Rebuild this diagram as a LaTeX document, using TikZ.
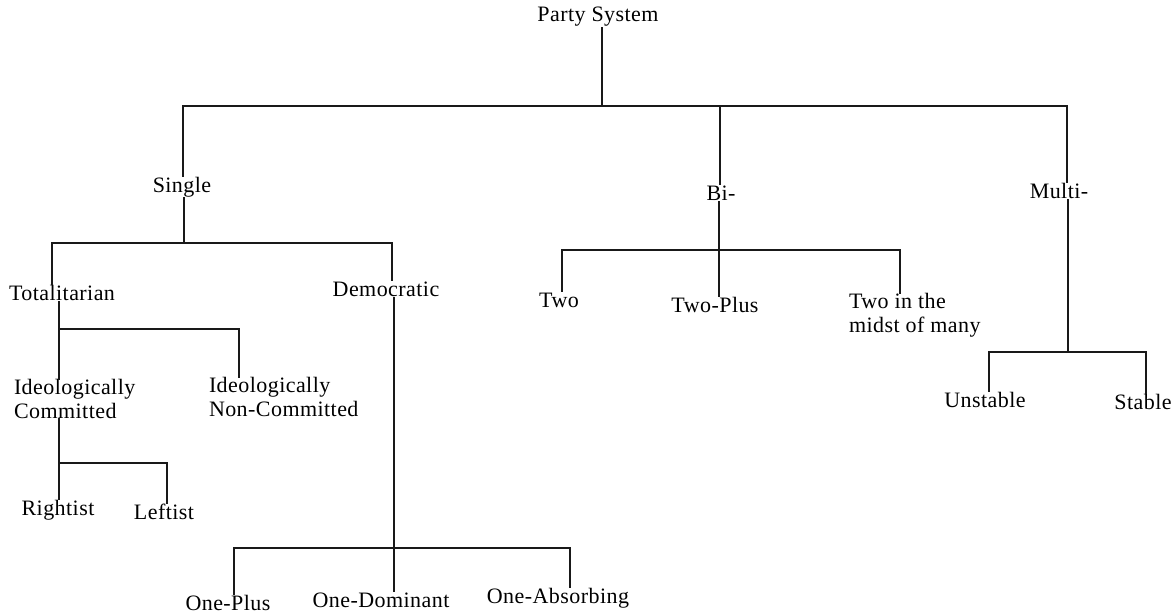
\documentclass[tikz,border=0pt]{standalone}
\usepackage{fontspec}
\setmainfont[LetterSpace=2]{Liberation Serif}
\begin{document}
\begin{tikzpicture}[x=1pt,y=1pt,
  lbl/.style={inner sep=1pt,outer sep=0pt,font=\fontsize{22}{24}\selectfont,text=black},
  lbl2/.style={lbl,align=left,anchor=west,inner sep=0pt},
  conn/.style={line width=1.5pt,draw=black!90,line cap=rect}]
\useasboundingbox (0,0) rectangle (1172,-615);
% nodes
\node[lbl] (ps) at (598,-17) {Party System};
\node[lbl] (single) at (182,-187) {Single};
\node[lbl] (bi) at (721,-193) {Bi-};
\node[lbl] (multi) at (1059,-191) {Multi-};
\node[lbl] (total) at (62,-293) {Totalitarian};
\node[lbl] (demo) at (386,-289) {Democratic};
\node[lbl2] (ideoc) at (14,-399) {Ideologically\\Committed};
\node[lbl2] (ideon) at (209,-397) {Ideologically\\Non-Committed};
\node[lbl] (right) at (58,-510) {Rightist};
\node[lbl] (left) at (164,-512) {Leftist};
\node[lbl] (oneplus) at (228,-603) {One-Plus};
\node[lbl] (onedom) at (381,-600) {One-Dominant};
\node[lbl] (oneabs) at (558,-598) {One-Absorbing};
\node[lbl] (two) at (559,-300) {Two};
\node[lbl] (twoplus) at (715,-305) {Two-Plus};
\node[lbl2] (twomid) at (849,-315) {Two in the\\midst of many};
\node[lbl] (unstable) at (985,-400) {Unstable};
\node[lbl] (stable) at (1143,-402) {Stable};
% junction coordinates
\coordinate (tL) at (183,-106);
\coordinate (tP) at (602,-106);
\coordinate (tB) at (720,-106);
\coordinate (tR) at (1067,-106);
\coordinate (sL) at (52,-243);
\coordinate (sJ) at (184,-243);
\coordinate (sR) at (392,-243);
\coordinate (aJ) at (59,-329);
\coordinate (aR) at (239,-329);
\coordinate (cJ) at (59,-463);
\coordinate (cR) at (167,-463);
\coordinate (dL) at (234,-548);
\coordinate (dJ) at (394,-548);
\coordinate (dR) at (570,-548);
\coordinate (bL) at (562,-250);
\coordinate (bJ) at (719,-250);
\coordinate (bR) at (900,-250);
\coordinate (mL) at (989,-352);
\coordinate (mJ) at (1068,-352);
\coordinate (mR) at (1146,-352);
% connectors
\draw[conn] (ps.south -| tP) -- (tP);
\draw[conn] (tL) -- (tR);
\draw[conn] (tL) -- (tL |- single.north);
\draw[conn] (tB) -- (tB |- bi.north);
\draw[conn] (tR) -- (tR |- multi.north);
\draw[conn] (single.south -| sJ) -- (sJ);
\draw[conn] (sL) -- (sR);
\draw[conn] (sL) -- (sL |- total.north);
\draw[conn] (sR) -- (sR |- demo.north);
\draw[conn] (total.south -| aJ) -- (aJ |- ideoc.north);
\draw[conn] (aJ) -- (aR);
\draw[conn] (aR) -- (aR |- ideon.north);
\draw[conn] (ideoc.south -| cJ) -- (cJ |- right.north);
\draw[conn] (cJ) -- (cR);
\draw[conn] (cR) -- (cR |- left.north);
\draw[conn] (demo.south -| dJ) -- (dJ |- onedom.north);
\draw[conn] (dL) -- (dR);
\draw[conn] (dL) -- (dL |- oneplus.north);
\draw[conn] (dR) -- (dR |- oneabs.north);
\draw[conn] (bi.south -| bJ) -- (bJ |- twoplus.north);
\draw[conn] (bL) -- (bR);
\draw[conn] (bL) -- (bL |- two.north);
\draw[conn] (bR) -- (bR |- twomid.north);
\draw[conn] (multi.south -| mJ) -- (mJ);
\draw[conn] (mL) -- (mR);
\draw[conn] (mL) -- (mL |- unstable.north);
\draw[conn] (mR) -- (mR |- stable.north);
\end{tikzpicture}
\end{document}
